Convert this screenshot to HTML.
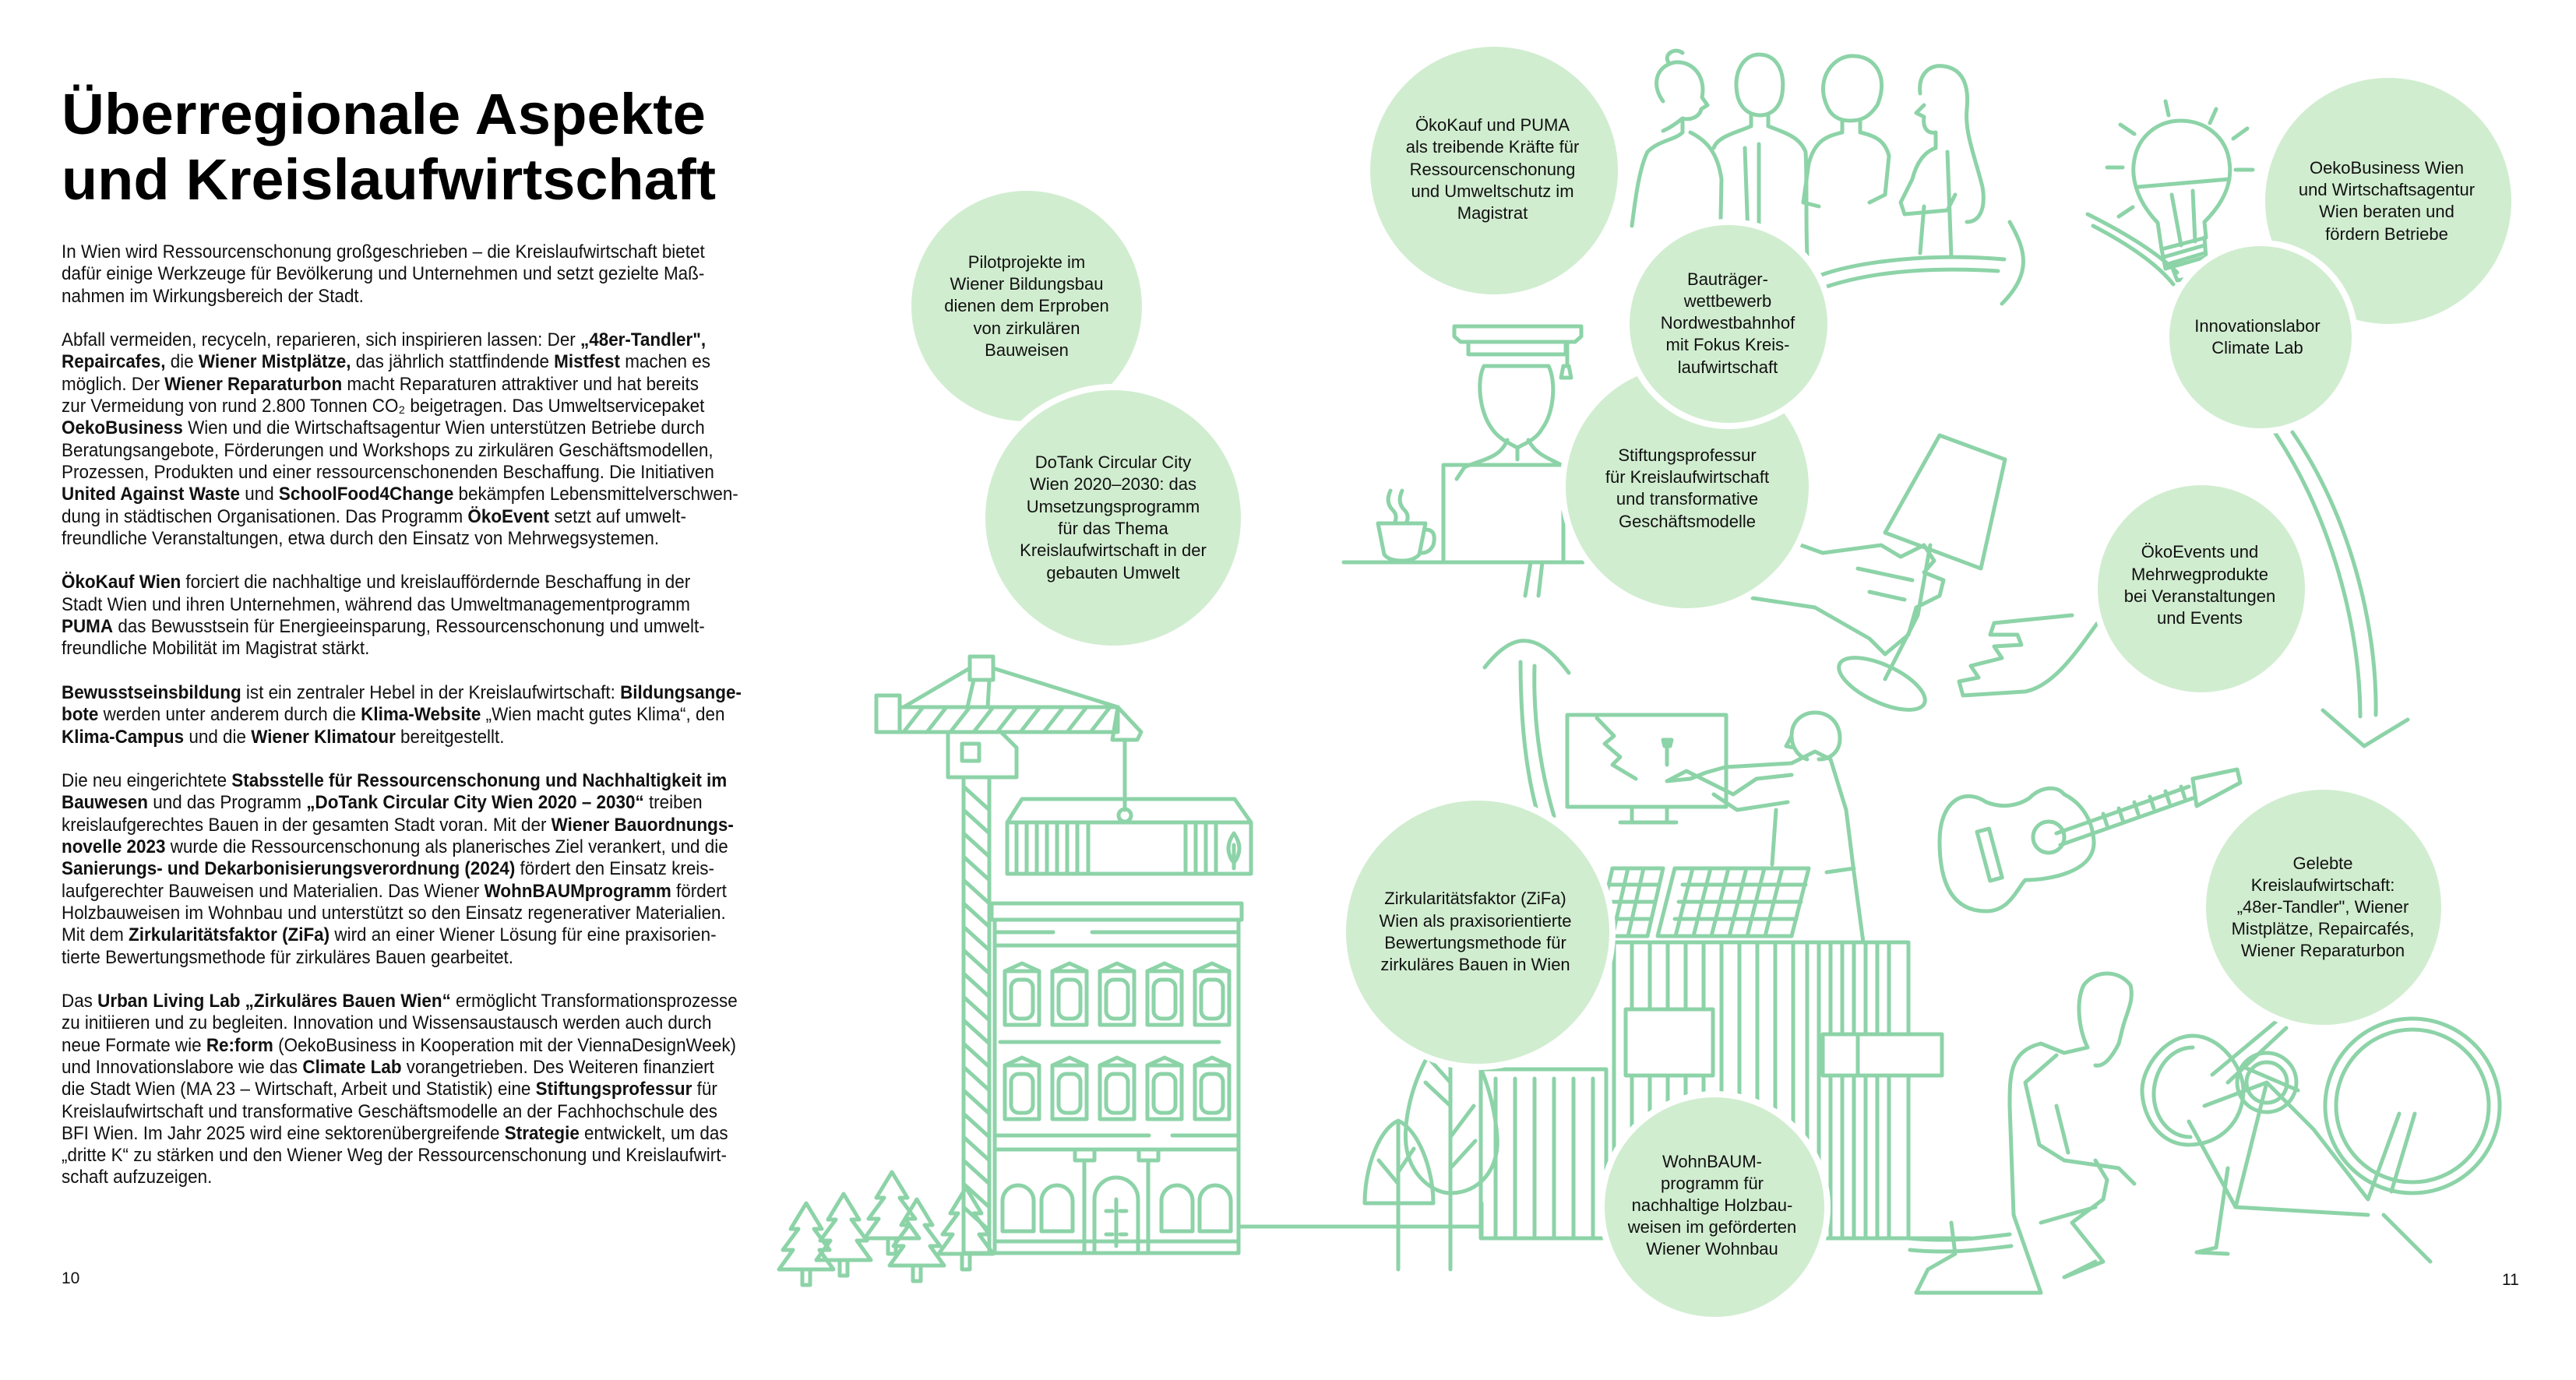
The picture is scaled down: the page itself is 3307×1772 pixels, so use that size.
<!DOCTYPE html>
<html><head><meta charset="utf-8">
<style>
html,body{margin:0;padding:0;background:#fff;}
body{width:3307px;height:1772px;position:relative;overflow:hidden;font-family:"Liberation Sans",sans-serif;color:#111;}
#txt{position:absolute;left:79px;top:310px;font-size:24px;line-height:28.3px;transform:scaleX(0.935);transform-origin:0 0;white-space:nowrap;}
#txt div{height:28.3px;}
#txt b{font-weight:bold;}
.pn{position:absolute;font-size:21px;}
svg{position:absolute;left:0;top:0;}
</style></head><body>
<svg width="3307" height="1772" viewBox="0 0 3307 1772">
<g font-family="Liberation Sans, sans-serif" font-weight="bold" font-size="74" fill="#000">
<text x="79" y="172" textLength="827" lengthAdjust="spacingAndGlyphs">Überregionale Aspekte</text>
<text x="79" y="256" textLength="840" lengthAdjust="spacingAndGlyphs">und Kreislaufwirtschaft</text>
</g>

<g fill="none" stroke="#8dd3a8" stroke-width="5" stroke-linecap="round" stroke-linejoin="round">
<rect x="1237" y="998" width="33" height="611"/>
<path d="M1237 1010 L1270 1040 M1237 1040 L1270 1070 M1237 1070 L1270 1100 M1237 1100 L1270 1130 M1237 1130 L1270 1160 M1237 1160 L1270 1190 M1237 1190 L1270 1220 M1237 1220 L1270 1250 M1237 1250 L1270 1280 M1237 1280 L1270 1310 M1237 1310 L1270 1340 M1237 1340 L1270 1370 M1237 1370 L1270 1400 M1237 1400 L1270 1430 M1237 1430 L1270 1460 M1237 1460 L1270 1490 M1237 1490 L1270 1520 M1237 1520 L1270 1550 M1237 1550 L1270 1580"/>
<rect x="1125" y="893" width="30" height="47"/>
<rect x="1155" y="908" width="280" height="32"/>
<path d="M1160 940 L1185 908 M1190 940 L1215 908 M1220 940 L1245 908 M1250 940 L1275 908 M1280 940 L1305 908 M1310 940 L1335 908 M1340 940 L1365 908 M1370 940 L1395 908 M1400 940 L1425 908"/>
<path d="M1435 908 L1465 940 L1460 950 L1428 950 Z"/>
<path d="M1217 940 L1217 998 L1305 998 L1305 960 L1285 940"/>
<rect x="1235" y="955" width="22" height="22"/>
<rect x="1245" y="843" width="30" height="30"/>
<path d="M1160 908 L1245 858 M1275 858 L1435 908 M1250 873 L1242 908 M1270 873 L1268 908"/>
<path d="M1444 950 L1444 1040"/><circle cx="1444" cy="1047" r="8"/>
<path d="M1312 1026 L1585 1026 L1606 1056 L1293 1056 Z"/>
<rect x="1293" y="1056" width="313" height="66"/>
<path d="M1305 1056V1122M1318 1056V1122M1331 1056V1122M1344 1056V1122M1357 1056V1122M1370 1056V1122M1383 1056V1122M1397 1056V1122M1522 1056V1122M1535 1056V1122M1548 1056V1122M1561 1056V1122"/>
<path d="M1584 1070 Q1570 1090 1584 1108 Q1598 1090 1584 1070 M1584 1085 V1115"/>
<rect x="1273" y="1160" width="321" height="21"/>
<rect x="1277" y="1181" width="313" height="428"/>
<path d="M1277 1197 H1352 M1402 1197 H1590 M1277 1214 H1590 M1284 1338 H1565 M1277 1458 H1475 M1505 1458 H1590 M1277 1476 H1590 M1277 1594 H1590"/>
<g id="win">
<path d="M1290 1247 L1312 1237 L1334 1247 Z"/>
<rect x="1290" y="1247" width="44" height="69"/><rect x="1298" y="1258" width="28" height="50" rx="10"/>
</g>
<use href="#win" x="61"/><use href="#win" x="122"/><use href="#win" x="183"/><use href="#win" x="244"/>
<use href="#win" y="121"/><use href="#win" x="61" y="121"/><use href="#win" x="122" y="121"/><use href="#win" x="183" y="121"/><use href="#win" x="244" y="121"/>
<path d="M1287 1581 V1542 A20 20 0 0 1 1327 1542 V1581 Z M1337 1581 V1542 A20 20 0 0 1 1377 1542 V1581 Z M1491 1581 V1542 A20 20 0 0 1 1531 1542 V1581 Z M1540 1581 V1542 A20 20 0 0 1 1580 1542 V1581 Z"/>
<path d="M1405 1609 V1540 A28 28 0 0 1 1461 1540 V1609"/>
<path d="M1380 1476 V1490 H1405 V1476 M1392 1490 V1609 M1462 1476 V1490 H1487 V1476 M1474 1490 V1609"/>
<path d="M1420 1555 H1428 M1438 1555 H1446 M1420 1585 H1428 M1438 1585 H1446 M1433 1540 V1600"/>
<g id="pine"><path d="M1035 1545 L1015 1578 L1025 1578 L1005 1605 L1018 1605 L1000 1630 L1070 1630 L1052 1605 L1065 1605 L1045 1578 L1055 1578 Z M1030 1630 V1650 H1040 V1630"/></g>
<use href="#pine" x="48" y="-12"/><use href="#pine" x="110" y="-40"/><use href="#pine" x="142" y="-5"/><use href="#pine" x="205" y="-20"/>
<path d="M1591 1575 H1902 M1902 1545 V1590 H2410 M2440 1590 H2530"/>
<path d="M1862 1326 C1830 1340 1800 1420 1805 1470 C1810 1510 1840 1532 1862 1532 C1900 1532 1925 1500 1922 1460 C1918 1400 1890 1330 1862 1326 Z M1862 1330 V1630 M1862 1390 L1835 1360 M1862 1420 L1830 1390 M1862 1460 L1892 1420 M1862 1500 L1894 1465"/>
<path d="M1795 1439 C1770 1450 1752 1500 1752 1545 H1840 C1840 1500 1820 1450 1795 1439 Z M1795 1442 V1630 M1795 1520 L1770 1490 M1795 1505 L1815 1475"/>
<rect x="1901" y="1373" width="161" height="217"/>
<path d="M1920 1385 V1590 M1945 1385 V1590 M1970 1385 V1590 M1995 1385 V1590 M2020 1385 V1590 M2045 1385 V1590"/>
<rect x="2072" y="1210" width="378" height="380"/>
<path d="M2095 1210 V1590 M2118 1210 V1590 M2141 1210 V1590 M2164 1210 V1590 M2187 1210 V1590 M2210 1210 V1590 M2233 1210 V1590 M2256 1210 V1590 M2279 1210 V1590 M2302 1210 V1590 M2320 1210 V1590 M2335 1210 V1590 M2350 1210 V1590 M2365 1210 V1590 M2380 1210 V1590 M2395 1210 V1590 M2410 1210 V1590 M2425 1210 V1590"/>
<rect x="2087" y="1296" width="112" height="85" fill="#fff"/>
<rect x="2340" y="1328" width="153" height="53" fill="#fff"/><path d="M2385 1328 V1381"/>
<path d="M2070 1115 L2135 1115 L2115 1202 L2050 1202 Z M2150 1115 L2322 1115 L2300 1202 L2128 1202 Z"/>
<path d="M2160 1136 H2318 M2155 1158 H2312 M2150 1180 H2306 M2173 1115 L2151 1202 M2196 1115 L2174 1202 M2219 1115 L2197 1202 M2242 1115 L2220 1202 M2265 1115 L2243 1202 M2288 1115 L2266 1202 M2065 1136 H2130 M2060 1158 H2125 M2055 1180 H2120 M2090 1115 L2070 1202 M2110 1115 L2090 1202"/>
<rect x="2012" y="918" width="204" height="118"/>
<path d="M2050 922 L2072 945 L2060 955 L2080 972 L2070 982 L2100 1000 M2095 1036 V1055 M2080 1056 H2152 M2140 1036 V1055"/>
<path d="M2140 1003 L2170 1000 L2190 992 L2215 985 L2300 980 L2330 965 L2350 975 L2370 1040 L2380 1120 L2392 1210 M2300 995 L2255 1000 L2225 1020 L2165 990 L2140 1003 M2295 1030 L2230 1040 L2200 1020 M2280 1040 L2275 1110 M2345 1120 L2380 1115"/>
<path d="M2320 975 C2305 970 2300 955 2300 945 C2300 925 2315 915 2330 915 C2350 915 2362 930 2362 948 C2362 965 2350 975 2335 975 M2300 945 L2293 958 L2303 960"/>
<path d="M2140 953 V982 M2135 950 H2146 L2144 958 H2137 Z"/>
<path d="M1906 857 Q1935 820 1960 823 Q1985 825 2014 864"/>
<path d="M1952 850 C1952 920 1958 990 1975 1048 M1970 855 C1968 925 1978 990 1995 1048"/>
<path d="M1867 419 H2030 V432 L2022 439 H1875 L1867 432 Z M1885 439 V455 H2010 V439 M2012 439 V470"/>
<path d="M2007 470 L2014 470 L2017 485 L2004 485 Z"/>
<path d="M1905 470 C1895 490 1900 530 1915 550 C1925 565 1940 570 1948 575 C1956 570 1972 565 1980 550 C1995 530 1998 490 1988 470 M1905 470 C1930 470 1960 470 1988 470 M1948 575 V590 M1935 565 C1925 590 1900 590 1880 600 L1870 615 M1962 565 C1975 590 2000 590 2015 605"/>
<rect x="1853" y="597" width="154" height="125"/>
<path d="M1725 722 H2032 M1965 722 L1958 765 M1980 722 L1975 765"/>
<path d="M1769 672 H1830 L1822 712 Q1815 720 1800 720 Q1783 720 1777 712 Z M1830 680 Q1845 680 1840 700 Q1835 710 1825 710 M1785 630 Q1778 645 1788 655 Q1795 662 1790 672 M1800 630 Q1793 645 1803 655 Q1810 662 1805 672"/>
<path d="M2142 80 C2135 70 2150 60 2160 68 M2135 130 C2120 110 2125 85 2150 80 C2175 78 2190 100 2185 125 L2192 135 L2184 140 C2182 150 2170 155 2160 152 L2160 170 C2150 180 2130 180 2115 195 C2105 215 2100 250 2095 290 M2170 170 C2190 180 2205 195 2210 230 L2208 330 M2160 152 C2150 160 2142 165 2135 168"/>
<path d="M2230 120 C2225 90 2240 70 2258 70 C2280 70 2292 90 2288 120 C2285 140 2272 148 2260 148 C2245 148 2233 138 2230 120 Z M2248 148 V162 C2230 170 2205 175 2200 190 M2270 148 V162 C2290 170 2310 175 2318 195 C2320 230 2318 280 2320 330 M2258 185 V320 M2240 190 L2245 330"/>
<path d="M2345 135 C2330 100 2355 70 2380 72 C2408 72 2425 100 2410 135 C2400 150 2390 155 2375 155 C2360 155 2350 148 2345 135 Z M2365 155 V170 C2345 175 2330 180 2322 210 L2315 260 L2335 265 M2388 155 V170 C2410 175 2420 182 2425 200 L2420 250 L2400 260"/>
<path d="M2465 120 C2462 95 2478 82 2495 85 C2520 88 2528 110 2525 140 C2522 170 2535 200 2545 240 C2550 270 2540 285 2525 285 M2470 135 L2460 145 L2470 150 C2468 165 2475 172 2485 170 L2485 190 C2470 195 2460 210 2455 230 L2440 260 L2445 275 L2500 270 L2510 250 M2500 195 L2505 330 M2470 265 L2465 325"/>
<path d="M2338 353 C2390 335 2480 325 2573 333 M2345 368 C2400 350 2470 342 2565 348"/>
<path d="M2580 285 C2600 320 2610 350 2570 390"/>
<path d="M2770 286 C2745 260 2735 230 2740 205 C2745 175 2770 155 2800 155 C2830 155 2858 175 2862 208 C2866 235 2855 260 2830 285 L2832 305 L2775 320 Z"/>
<path d="M2745 240 L2862 230 M2788 250 L2800 315 M2815 245 L2818 310 M2775 320 L2780 345 L2832 330 L2830 305 M2778 330 L2830 315 M2780 340 L2830 325 M2790 347 L2795 360 L2822 356 L2825 340"/>
<path d="M2780 130 L2784 148 M2845 140 L2837 158 M2722 160 L2740 172 M2885 165 L2867 178 M2705 215 H2725 M2870 218 H2892 M2720 278 L2738 266"/>
<path d="M2680 275 C2740 305 2775 330 2795 350 M2687 290 C2735 315 2770 340 2790 365"/>
<path d="M2920 555 C2990 660 3030 800 3030 920 M2943 555 C3015 660 3052 800 3050 918"/>
<path d="M2982 912 L3035 958 L3091 924"/>
<path d="M2490 559 L2574 590 L2543 730 L2420 684 Z M2478 700 L2462 790 L2420 872"/>
<ellipse cx="2416" cy="878" rx="60" ry="24" transform="rotate(25 2416 878)"/>
<path d="M2312 700 L2340 710 L2415 700 L2440 715 L2470 700 L2483 720 L2470 735 L2495 745 L2490 765 L2460 780 L2450 815 L2420 840 L2400 820 L2330 780 L2250 768"/>
<path d="M2455 745 L2385 730 M2445 770 L2400 760"/>
<path d="M2700 790 C2670 830 2640 880 2600 888 L2520 893 L2515 875 L2540 870 L2530 855 L2570 845 L2560 830 L2595 828 L2590 815 L2555 815 L2560 800 L2610 795 L2660 790"/>
<path d="M2550 1030 C2520 1010 2490 1030 2490 1080 C2490 1140 2510 1170 2550 1170 C2580 1170 2590 1140 2600 1130 C2630 1130 2690 1120 2688 1080 C2686 1050 2670 1030 2650 1020 C2640 1008 2620 1010 2605 1025 C2590 1035 2570 1038 2550 1030 Z"/>
<rect x="2546" y="1065" width="16" height="65" transform="rotate(-15 2554 1097)"/>
<circle cx="2630" cy="1075" r="20"/>
<path d="M2640 1070 L2810 1010 M2645 1085 L2815 1025 M2815 1000 L2872 988 L2876 1005 L2820 1035 Z"/>
<path d="M2700 1045 L2705 1060 M2720 1038 L2725 1053 M2740 1030 L2745 1045 M2760 1023 L2765 1038 M2780 1016 L2785 1031 M2800 1010 L2805 1025"/>
<path d="M2810 1470 C2770 1470 2750 1430 2750 1400 C2750 1370 2780 1330 2815 1330 C2850 1330 2880 1370 2880 1400 C2880 1440 2850 1470 2810 1470 Z M2815 1345 C2785 1345 2765 1375 2765 1405 C2765 1435 2785 1460 2812 1460"/>
<circle cx="3097" cy="1420" r="112"/><circle cx="3097" cy="1420" r="98"/>
<circle cx="2910" cy="1390" r="38"/><circle cx="2910" cy="1390" r="26"/>
<path d="M2830 1420 L2910 1390 L2970 1450 L3040 1540 L3080 1430 M2810 1440 L2870 1550 L3040 1560 M2870 1550 L2910 1390 M2880 1370 L2950 1400 M2860 1500 L2845 1602 L2820 1608 L2860 1610 M3060 1560 L3090 1590 L3120 1620 M3100 1430 L3070 1530"/>
<path d="M2935 1320 L2860 1390 M2930 1305 L2840 1380"/>
<path d="M2680 1345 C2668 1320 2665 1285 2675 1265 C2690 1245 2720 1245 2735 1265 C2740 1285 2730 1300 2725 1320 L2720 1340 C2710 1360 2700 1370 2690 1368 M2680 1345 L2650 1352 L2620 1340 C2580 1350 2580 1380 2580 1420 L2585 1560 L2620 1660 L2460 1660 L2475 1630 L2510 1610 L2505 1570 M2640 1355 L2600 1390 L2618 1470 L2650 1490 L2720 1500 L2740 1520 M2640 1420 L2655 1480 M2690 1490 L2705 1515 L2700 1540 L2660 1570 L2700 1620 L2650 1640 L2690 1620 M2620 1570 L2690 1550"/>
<path d="M2450 1590 C2500 1595 2540 1590 2580 1585 M2452 1605 C2500 1610 2540 1605 2582 1600"/>
</g>

<g fill="#d1edd0" stroke="#fff" stroke-width="8">
<circle cx="1318" cy="393" r="152"/>
<circle cx="1429" cy="665" r="168"/>
<circle cx="1918" cy="219" r="163"/>
<circle cx="2166" cy="625" r="160"/>
<circle cx="2219" cy="416" r="131"/>
<circle cx="3066" cy="258" r="162"/>
<circle cx="2902" cy="433" r="121"/>
<circle cx="2826" cy="756" r="137"/>
<circle cx="1897" cy="1197" r="173"/>
<circle cx="2201" cy="1550" r="145"/>
<circle cx="2983" cy="1165" r="155"/>
</g>

<g font-family="Liberation Sans, sans-serif" font-size="22" fill="#111" text-anchor="middle">
<text x="1318" y="344">Pilotprojekte im</text><text x="1318" y="372">Wiener Bildungsbau</text><text x="1318" y="400">dienen dem Erproben</text><text x="1318" y="429">von zirkulären</text><text x="1318" y="457">Bauweisen</text>
<text x="1429" y="601">DoTank Circular City</text><text x="1429" y="629">Wien 2020–2030: das</text><text x="1429" y="658">Umsetzungsprogramm</text><text x="1429" y="686">für das Thema</text><text x="1429" y="714">Kreislaufwirtschaft in der</text><text x="1429" y="743">gebauten Umwelt</text>
<text x="1916" y="168">ÖkoKauf und PUMA</text><text x="1916" y="196">als treibende Kräfte für</text><text x="1916" y="225">Ressourcenschonung</text><text x="1916" y="253">und Umweltschutz im</text><text x="1916" y="281">Magistrat</text>
<text x="2218" y="366">Bauträger-</text><text x="2218" y="394">wettbewerb</text><text x="2218" y="422">Nordwestbahnhof</text><text x="2218" y="450">mit Fokus Kreis-</text><text x="2218" y="479">laufwirtschaft</text>
<text x="2166" y="592">Stiftungsprofessur</text><text x="2166" y="620">für Kreislaufwirtschaft</text><text x="2166" y="648">und transformative</text><text x="2166" y="677">Geschäftsmodelle</text>
<text x="2898" y="426">Innovationslabor</text><text x="2898" y="454">Climate Lab</text>
<text x="3064" y="223">OekoBusiness Wien</text><text x="3064" y="251">und Wirtschaftsagentur</text><text x="3064" y="279">Wien beraten und</text><text x="3064" y="308">fördern Betriebe</text>
<text x="2824" y="716">ÖkoEvents und</text><text x="2824" y="745">Mehrwegprodukte</text><text x="2824" y="773">bei Veranstaltungen</text><text x="2824" y="801">und Events</text>
<text x="1894" y="1161">Zirkularitätsfaktor (ZiFa)</text><text x="1894" y="1190">Wien als praxisorientierte</text><text x="1894" y="1218">Bewertungsmethode für</text><text x="1894" y="1246">zirkuläres Bauen in Wien</text>
<text x="2198" y="1499">WohnBAUM-</text><text x="2198" y="1527">programm für</text><text x="2198" y="1555">nachhaltige Holzbau-</text><text x="2198" y="1583">weisen im geförderten</text><text x="2198" y="1611">Wiener Wohnbau</text>
<text x="2982" y="1116">Gelebte</text><text x="2982" y="1144">Kreislaufwirtschaft:</text><text x="2982" y="1172">„48er-Tandler", Wiener</text><text x="2982" y="1200">Mistplätze, Repaircafés,</text><text x="2982" y="1228">Wiener Reparaturbon</text>
</g>
</svg>

<div id="txt">
<div>In Wien wird Ressourcenschonung großgeschrieben – die Kreislaufwirtschaft bietet</div>
<div>dafür einige Werkzeuge für Bevölkerung und Unternehmen und setzt gezielte Maß-</div>
<div>nahmen im Wirkungsbereich der Stadt.</div>
<div></div>
<div>Abfall vermeiden, recyceln, reparieren, sich inspirieren lassen: Der <b>„48er-Tandler",</b></div>
<div><b>Repaircafes,</b> die <b>Wiener Mistplätze,</b> das jährlich stattfindende <b>Mistfest</b> machen es</div>
<div>möglich. Der <b>Wiener Reparaturbon</b> macht Reparaturen attraktiver und hat bereits</div>
<div>zur Vermeidung von rund 2.800 Tonnen CO₂ beigetragen. Das Umweltservicepaket</div>
<div><b>OekoBusiness</b> Wien und die Wirtschaftsagentur Wien unterstützen Betriebe durch</div>
<div>Beratungsangebote, Förderungen und Workshops zu zirkulären Geschäftsmodellen,</div>
<div>Prozessen, Produkten und einer ressourcenschonenden Beschaffung. Die Initiativen</div>
<div><b>United Against Waste</b> und <b>SchoolFood4Change</b> bekämpfen Lebensmittelverschwen-</div>
<div>dung in städtischen Organisationen. Das Programm <b>ÖkoEvent</b> setzt auf umwelt-</div>
<div>freundliche Veranstaltungen, etwa durch den Einsatz von Mehrwegsystemen.</div>
<div></div>
<div><b>ÖkoKauf Wien</b> forciert die nachhaltige und kreislauffördernde Beschaffung in der</div>
<div>Stadt Wien und ihren Unternehmen, während das Umweltmanagementprogramm</div>
<div><b>PUMA</b> das Bewusstsein für Energieeinsparung, Ressourcenschonung und umwelt-</div>
<div>freundliche Mobilität im Magistrat stärkt.</div>
<div></div>
<div><b>Bewusstseinsbildung</b> ist ein zentraler Hebel in der Kreislaufwirtschaft: <b>Bildungsange-</b></div>
<div><b>bote</b> werden unter anderem durch die <b>Klima-Website</b> „Wien macht gutes Klima“, den</div>
<div><b>Klima-Campus</b> und die <b>Wiener Klimatour</b> bereitgestellt.</div>
<div></div>
<div>Die neu eingerichtete <b>Stabsstelle für Ressourcenschonung und Nachhaltigkeit im</b></div>
<div><b>Bauwesen</b> und das Programm <b>„DoTank Circular City Wien 2020 – 2030“</b> treiben</div>
<div>kreislaufgerechtes Bauen in der gesamten Stadt voran.  Mit der <b>Wiener Bauordnungs-</b></div>
<div><b>novelle 2023</b> wurde die Ressourcenschonung als planerisches Ziel verankert, und die</div>
<div><b>Sanierungs- und Dekarbonisierungsverordnung (2024)</b> fördert den Einsatz kreis-</div>
<div>laufgerechter Bauweisen und Materialien. Das Wiener <b>WohnBAUMprogramm</b> fördert</div>
<div>Holzbauweisen im Wohnbau und unterstützt so den Einsatz regenerativer Materialien.</div>
<div>Mit dem <b>Zirkularitätsfaktor (ZiFa)</b> wird an einer Wiener Lösung für eine praxisorien-</div>
<div>tierte Bewertungsmethode für zirkuläres Bauen gearbeitet.</div>
<div></div>
<div>Das <b>Urban Living Lab „Zirkuläres Bauen Wien“</b> ermöglicht Transformationsprozesse</div>
<div>zu initiieren und zu begleiten. Innovation und Wissensaustausch werden auch durch</div>
<div>neue Formate wie <b>Re:form</b> (OekoBusiness in Kooperation mit der ViennaDesignWeek)</div>
<div>und Innovationslabore wie das <b>Climate Lab</b> vorangetrieben. Des Weiteren finanziert</div>
<div>die Stadt Wien (MA 23 – Wirtschaft, Arbeit und Statistik) eine <b>Stiftungsprofessur</b> für</div>
<div>Kreislaufwirtschaft und transformative Geschäftsmodelle an der Fachhochschule des</div>
<div>BFI Wien. Im Jahr 2025 wird eine sektorenübergreifende <b>Strategie</b> entwickelt, um das</div>
<div>„dritte K“ zu stärken und den Wiener Weg der Ressourcenschonung und Kreislaufwirt-</div>
<div>schaft aufzuzeigen.</div>
</div>
<div class="pn" style="left:79px;top:1630px;">10</div>
<div class="pn" style="left:3212px;top:1632px;">11</div>
</body></html>
